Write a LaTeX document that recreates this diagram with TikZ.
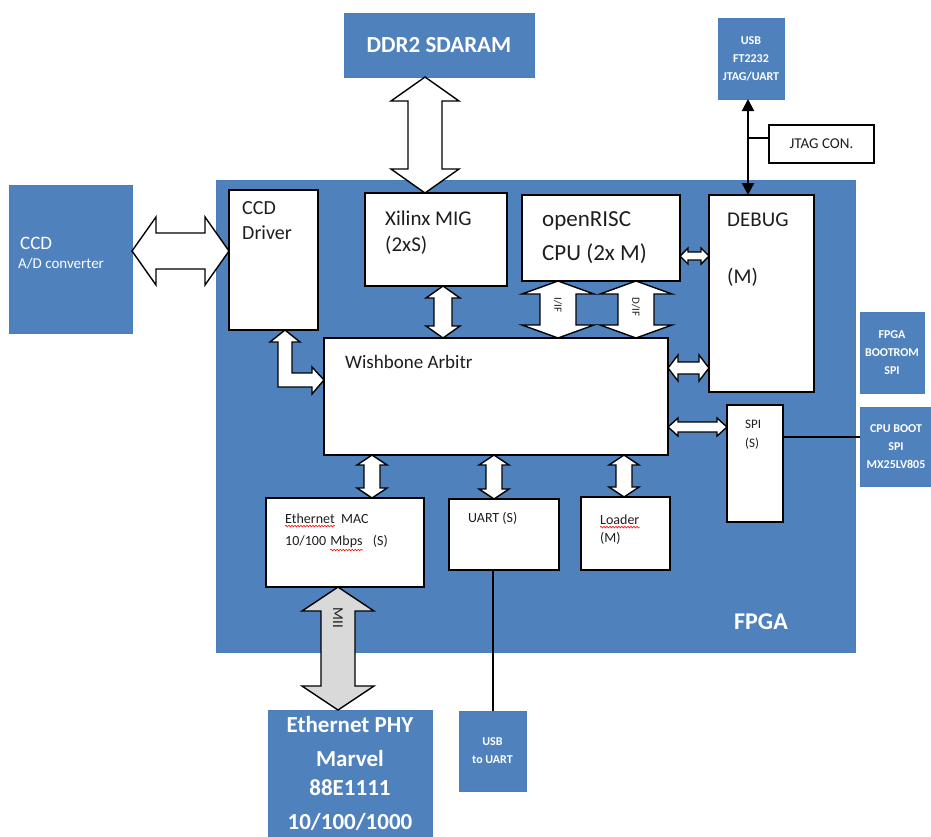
\documentclass[tikz,border=0pt]{standalone}
\usepackage{fontspec}
\setmainfont{Carlito}
\usetikzlibrary{calc,arrows.meta,decorations.pathmorphing}

\definecolor{fpgablue}{HTML}{4F81BD}
\definecolor{blueedge}{HTML}{4A7EBB}
\definecolor{miigray}{HTML}{D9D9D9}
\definecolor{inktext}{HTML}{1E1E1E}

\tikzset{
  bluebox/.style={fill=fpgablue, draw=blueedge, line width=0.8pt, inner sep=0pt, outer sep=0pt, anchor=north west},
  whitebox/.style={fill=white, draw=black, line width=1.5pt, inner sep=0pt, outer sep=0pt, anchor=north west},
  bluelabel/.style={text=white, align=center, font=\bfseries\fontsize{12}{18}\selectfont},
  phytxt/.style={text=white, inner sep=0pt, font=\bfseries\fontsize{23}{27}\selectfont},
  blocktxt/.style={text=inktext, anchor=west, inner sep=0pt},
  blockarrow/.style={fill=white, draw=black, line width=1.4pt, line join=miter},
  greyarrow/.style={fill=miigray, draw=black, line width=1.4pt, line join=miter},
  wire/.style={draw=black, line width=1.3pt},
  jtagwire/.style={draw=black, line width=2.2pt, {Triangle[length=12pt,width=12pt]}-{Triangle[length=12pt,width=12pt]}},
  spell/.style={draw=red, line width=0.6pt, decorate, decoration={snake, amplitude=0.8pt, segment length=3pt}},
}

% vertical double block arrow: top tip, bottom tip, shaft half width, head half width, head length, style
\newcommand{\vdblarrow}[6]{%
  \draw[#6] let \p1=#1, \p2=#2 in
    (\x1,\y1) -- (\x1+#4pt,\y1-#5pt) -- (\x1+#3pt,\y1-#5pt) -- (\x1+#3pt,\y2+#5pt)
    -- (\x1+#4pt,\y2+#5pt) -- (\x1,\y2) -- (\x1-#4pt,\y2+#5pt) -- (\x1-#3pt,\y2+#5pt)
    -- (\x1-#3pt,\y1-#5pt) -- (\x1-#4pt,\y1-#5pt) -- cycle;}
% horizontal double block arrow: left tip, right tip, shaft half width, head half width, head length, style
\newcommand{\hdblarrow}[6]{%
  \draw[#6] let \p1=#1, \p2=#2 in
    (\x1,\y1) -- (\x1+#5pt,\y1+#4pt) -- (\x1+#5pt,\y1+#3pt) -- (\x2-#5pt,\y1+#3pt)
    -- (\x2-#5pt,\y1+#4pt) -- (\x2,\y1) -- (\x2-#5pt,\y1-#4pt) -- (\x2-#5pt,\y1-#3pt)
    -- (\x1+#5pt,\y1-#3pt) -- (\x1+#5pt,\y1-#4pt) -- cycle;}

\begin{document}
\begin{tikzpicture}[x=1pt,y=-1pt]
\useasboundingbox (0,0) rectangle (931,836);

% FPGA fabric
\node[bluebox, minimum width=639pt, minimum height=472pt] (fpga) at (216,180) {};
\node[phytxt, font=\bfseries\fontsize{24}{28}\selectfont] (fpgalbl) at (761,622) {FPGA};

% external devices
\node[bluebox, minimum width=190pt, minimum height=64pt, text=white,
      font=\bfseries\fontsize{23}{27}\selectfont] (ddr) at (344,13) {DDR2 SDARAM};
\node[bluebox, minimum width=66pt, minimum height=81pt, bluelabel] (usb) at (718,18) {USB\\FT2232\\JTAG/UART};
\node[bluebox, minimum width=123pt, minimum height=148pt] (ccd) at (9,185) {};
\node[blocktxt, text=white, font=\fontsize{19}{22}\selectfont] (ccdt1) at ([shift={(11,58)}]ccd.north west) {CCD};
\node[blocktxt, text=white, font=\fontsize{15}{18}\selectfont] (ccdt2) at ([shift={(9,79)}]ccd.north west) {A/D converter};
\node[bluebox, minimum width=64pt, minimum height=81pt, bluelabel] (bootrom) at (860,312) {FPGA\\BOOTROM\\SPI};
\node[bluebox, minimum width=72pt, minimum height=79pt, bluelabel] (cpuboot) at (860,407) {CPU BOOT\\SPI\\MX25LV805};
\node[bluebox, minimum width=67pt, minimum height=80pt, bluelabel] (usbu) at (459,711) {USB\\to UART};
\node[bluebox, minimum width=164pt, minimum height=127pt] (phy) at (268,710) {};
\node[phytxt] (phy1) at (350,725) {Ethernet PHY};
\node[phytxt] (phy2) at (350,759) {Marvel};
\node[phytxt] (phy3) at (350,788) {88E1111};
\node[phytxt] (phy4) at (350,822) {10/100/1000};

% FPGA blocks
\node[whitebox, minimum width=89pt, minimum height=140pt] (ccdd) at (229,190) {};
\node[whitebox, minimum width=142pt, minimum height=93pt] (mig) at (365,193) {};
\node[whitebox, minimum width=158pt, minimum height=86pt] (cpu) at (522,195) {};
\node[whitebox, minimum width=105pt, minimum height=197pt] (dbg) at (709,195) {};
\node[whitebox, minimum width=344pt, minimum height=117pt] (wb) at (324,338) {};
\node[whitebox, minimum width=56pt, minimum height=117pt] (spi) at (727,405) {};
\node[whitebox, minimum width=158pt, minimum height=89pt] (mac) at (266,498) {};
\node[whitebox, minimum width=110pt, minimum height=71pt] (uart) at (449,499) {};
\node[whitebox, minimum width=89pt, minimum height=73pt] (loader) at (581,497) {};
\node[whitebox, minimum width=105pt, minimum height=38pt, anchor=north west,
      font=\fontsize{15}{17}\selectfont, text=inktext] (jcon) at (769,125) {JTAG CON.};

% block captions
\node[blocktxt, font=\fontsize{20}{23}\selectfont] (ccdd1) at ([shift={(13,18)}]ccdd.north west) {CCD};
\node[blocktxt, font=\fontsize{20}{23}\selectfont] (ccdd2) at ([shift={(13,43)}]ccdd.north west) {Driver};
\node[blocktxt, font=\fontsize{21}{24}\selectfont] (mig1) at ([shift={(20,25)}]mig.north west) {Xilinx MIG};
\node[blocktxt, font=\fontsize{21}{24}\selectfont] (mig2) at ([shift={(20,52)}]mig.north west) {(2xS)};
\node[blocktxt, font=\fontsize{23}{26}\selectfont] (cpu1) at ([shift={(20,26)}]cpu.north west) {openRISC};
\node[blocktxt, font=\fontsize{23}{26}\selectfont] (cpu2) at ([shift={(20,59)}]cpu.north west) {CPU (2x M)};
\node[blocktxt, font=\fontsize{21}{24}\selectfont] (dbg1) at ([shift={(18,25)}]dbg.north west) {DEBUG};
\node[blocktxt, font=\fontsize{21}{24}\selectfont] (dbg2) at ([shift={(18,82)}]dbg.north west) {(M)};
\node[blocktxt, font=\fontsize{19}{22}\selectfont] (wb1) at ([shift={(21,24)}]wb.north west) {Wishbone Arbitr};
\node[blocktxt, font=\fontsize{13}{16}\selectfont] (spi1) at ([shift={(18,19)}]spi.north west) {SPI};
\node[blocktxt, font=\fontsize{13}{16}\selectfont] (spi2) at ([shift={(18,39)}]spi.north west) {(S)};
\node[blocktxt, font=\fontsize{14}{16}\selectfont] (mac1) at ([shift={(19,21)}]mac.north west) {Ethernet};
\node[text=inktext, inner sep=0pt, anchor=base west, font=\fontsize{14}{16}\selectfont] (mac2) at ([xshift=6pt]mac1.base east) {MAC};
\node[blocktxt, font=\fontsize{14}{16}\selectfont] (mac3) at ([shift={(19,43)}]mac.north west) {10/100};
\node[text=inktext, inner sep=0pt, anchor=base west, font=\fontsize{14}{16}\selectfont] (mac4) at ([xshift=4pt]mac3.base east) {Mbps};
\node[text=inktext, inner sep=0pt, anchor=base west, font=\fontsize{14}{16}\selectfont] (mac5) at ([xshift=10pt]mac4.base east) {(S)};
\node[blocktxt, font=\fontsize{14}{16}\selectfont] (uart1) at ([shift={(19,19)}]uart.north west) {UART (S)};
\node[blocktxt, font=\fontsize{14}{16}\selectfont] (ld1) at ([shift={(19,23)}]loader.north west) {Loader};
\node[blocktxt, font=\fontsize{14}{16}\selectfont] (ld2) at ([shift={(19,41)}]loader.north west) {(M)};

% spelling marks
\draw[spell] ([yshift=-2pt]mac1.south west) -- ([yshift=-2pt]mac1.south east);
\draw[spell] ([yshift=-2pt]mac4.south west) -- ([yshift=-2pt]mac4.south east);
\draw[spell] ([yshift=-2pt]ld1.south west) -- ([yshift=-2pt]ld1.south east);

% block arrows
\vdblarrow{([xshift=-14pt]ddr.south)}{(mig.north)}{17}{34}{24}{blockarrow}
\vdblarrow{([xshift=7pt]mig.south)}{(wb.north)}{9}{17}{12}{blockarrow}
\vdblarrow{([xshift=-43pt]cpu.south)}{(wb.north)}{18}{36}{13}{blockarrow}
\vdblarrow{([xshift=35pt]cpu.south)}{(wb.north)}{18}{36}{13}{blockarrow}
\vdblarrow{([xshift=-124pt]wb.south)}{(mac.north)}{8}{15}{10}{blockarrow}
\vdblarrow{([xshift=-2pt]wb.south)}{(uart.north)}{8}{15}{10}{blockarrow}
\vdblarrow{([xshift=128pt]wb.south)}{(loader.north)}{8}{15}{10}{blockarrow}
\vdblarrow{([xshift=-7pt]mac.south)}{(phy.north)}{17}{36}{24}{greyarrow}
\hdblarrow{([yshift=8pt]ccd.east)}{(ccdd.west)}{18}{34}{24}{blockarrow}
\hdblarrow{([yshift=-18pt]cpu.east)}{(dbg.west)}{4}{8}{8}{blockarrow}
\hdblarrow{([yshift=28.5pt]wb.east)}{(dbg.west)}{6}{13}{10}{blockarrow}
\hdblarrow{([yshift=-30.5pt]wb.east)}{(spi.west)}{5}{9}{10}{blockarrow}

% bent arrow from the CCD driver into the arbiter
\draw[blockarrow] let \p1=([xshift=11.5pt]ccdd.south), \p2=([yshift=16.5pt]wb.west) in
  (\x1,\y1) -- (\x1+15pt,\y1-12pt) -- (\x1+7pt,\y1-12pt) -- (\x1+7pt,\y2+7pt)
  -- (\x2-12pt,\y2+7pt) -- (\x2-12pt,\y2+13pt) -- (\x2,\y2) -- (\x2-12pt,\y2-14pt)
  -- (\x2-12pt,\y2-7pt) -- (\x1-7pt,\y2-7pt) -- (\x1-7pt,\y1-12pt) -- (\x1-15pt,\y1-12pt) -- cycle;

% arrow labels
\node[rotate=-90, inner sep=0pt, text=inktext, font=\fontsize{11}{12}\selectfont] (iif) at (558,305) {I/IF};
\node[rotate=-90, inner sep=0pt, text=inktext, font=\fontsize{11}{12}\selectfont] (dif) at (636,307) {D/IF};
\node[rotate=-90, inner sep=0pt, text=inktext, font=\fontsize{15}{17}\selectfont] (mii) at (338,618) {MII};

% signal wires
\coordinate (jt) at ([xshift=-3pt]usb.south);
\draw[jtagwire] (jt) -- (jt |- dbg.north);
\draw[wire] ([yshift=6pt]jcon.west) -- ([yshift=6pt]jcon.west -| jt);
\draw[wire] ([yshift=26.5pt]spi.east) -- ([yshift=26.5pt]spi.east -| cpuboot.west);
\draw[wire, line width=1.1pt] ([xshift=-11pt]uart.south) -- ([xshift=-11pt]uart.south |- usbu.north);

\end{tikzpicture}
\end{document}
